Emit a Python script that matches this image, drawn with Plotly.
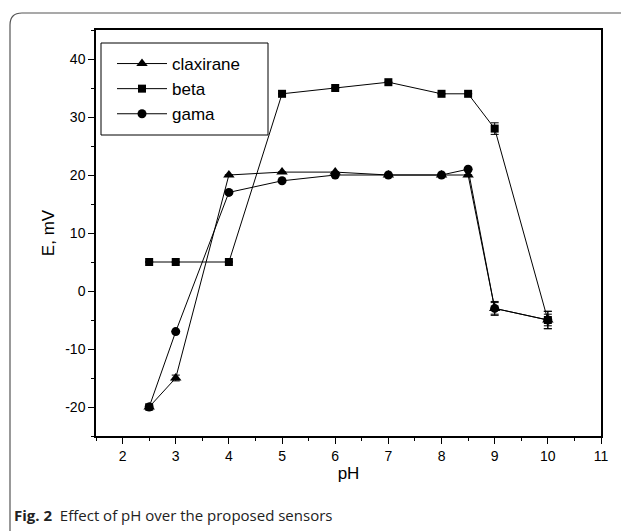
import plotly.graph_objects as go

ph = [2.5, 3, 4, 5, 6, 7, 8, 8.5, 9, 10]
claxirane = [-20, -15, 20, 20.5, 20.5, 20, 20, 20, -3, -5]
beta = [5, 5, 5, 34, 35, 36, 34, 34, 28, -5]
gama = [-20, -7, 17, 19, 20, 20, 20, 21, -3, -5]
err_clax = [0.5, 0.5, 0, 0, 0, 0, 0, 0, 1.0, 1.0]
err_beta = [0, 0, 0, 0, 0, 0, 0, 0, 1.0, 1.5]
err_gama = [0.5, 0, 0, 0, 0, 0, 0, 0, 1.2, 1.5]
x_ticks = [2, 3, 4, 5, 6, 7, 8, 9, 10, 11]
y_ticks = [-20, -10, 0, 10, 20, 30, 40]
y_ticktext = ["-20", "-10", "0", "10", "20", "30", "40"]

# page is offset by the browser's default 8px body margin
OFF = 8
PW, PH = 629, 531
W, H = PW - OFF, PH - OFF
L, R, T, B = 96, 601, 30, 436  # plot area in page pixels

fig = go.Figure()
font = "Liberation Sans, Arial, sans-serif"

def add(name, y, err, sym, size):
    fig.add_trace(go.Scatter(
        x=ph, y=y, name=name, mode="lines+markers",
        line=dict(color="black", width=1),
        marker=dict(symbol=sym, size=size, color="black"),
        error_y=dict(type="data", array=err, visible=True, color="black", thickness=1, width=4),
    ))

add("claxirane", claxirane, err_clax, "triangle-up", 10)
add("beta", beta, err_beta, "square", 8)
add("gama", gama, err_gama, "circle", 9)

def px(xp):
    return (xp - L) / (R - L)

def py(yp):
    return (B - yp) / (B - T)

# rounded frame
x0, x1, y0, y1 = px(10), px(640), py(13), py(545)
rx = 12 / (R - L)
ry = 12 / (B - T)
path = (f"M {x0},{y1} L {x0},{y0 - ry} Q {x0},{y0} {x0 + rx},{y0} "
        f"L {x1 - rx},{y0} Q {x1},{y0} {x1},{y0 - ry} L {x1},{y1}")
fig.add_shape(type="path", xref="paper", yref="paper", path=path,
              line=dict(color="#555555", width=1.2))

# legend box
fig.add_shape(type="rect", xref="paper", yref="paper", x0=px(101), x1=px(268), y0=py(135), y1=py(43),
              line=dict(color="black", width=1), fillcolor="white", layer="above")

fig.add_annotation(xref="paper", yref="paper", x=px(12), y=py(515), xanchor="left", yanchor="middle",
                   text="<b>Fig. 2</b>  Effect of pH over the proposed sensors", showarrow=False,
                   font=dict(family="Open Sans, Noto Sans, sans-serif", size=15, color="#222222"))

fig.update_layout(
    width=W, height=H,
    margin=dict(l=L - OFF, r=PW - R, t=T - OFF, b=PH - B, autoexpand=False),
    paper_bgcolor="white", plot_bgcolor="white",
    font=dict(family=font, color="black", size=14),
    legend=dict(x=px(112), y=py(46), xanchor="left", yanchor="top",
                borderwidth=0, bgcolor="rgba(0,0,0,0)",
                font=dict(size=17), itemwidth=50, tracegroupgap=0),
    showlegend=True,
)
fig.update_xaxes(range=[1.5, 11], tickvals=x_ticks, ticks="outside", ticklen=6,
                 tickwidth=1, tickcolor="black", showline=True, linecolor="black", linewidth=1.5,
                 mirror=True, showgrid=False, zeroline=False, automargin=False,
                 minor=dict(dtick=0.5, ticks="outside", ticklen=3, tickcolor="black", tickwidth=1),
                 title=dict(text="pH", font=dict(size=17), standoff=4),
                 tickfont=dict(size=14))
fig.update_yaxes(range=[-25, 45], tickvals=y_ticks, ticktext=y_ticktext, ticks="outside", ticklen=6,
                 tickwidth=1, tickcolor="black", showline=True, linecolor="black", linewidth=1.5,
                 mirror=True, showgrid=False, zeroline=False, automargin=False,
                 minor=dict(dtick=5, ticks="outside", ticklen=3, tickcolor="black", tickwidth=1),
                 title=dict(text="E, mV", font=dict(size=17), standoff=6),
                 tickfont=dict(size=14))

fig.write_html("out.html")
